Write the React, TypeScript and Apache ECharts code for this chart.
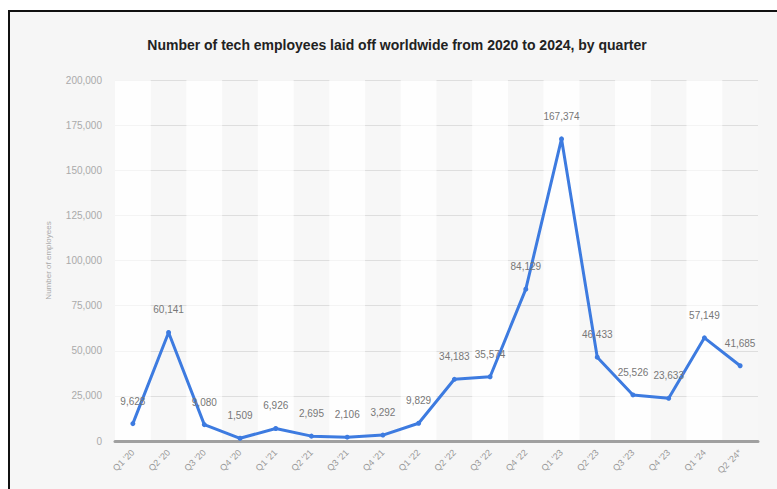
import React, { useEffect, useRef } from "react";
import * as echarts from "echarts";

const categories = ["Q1 '20", "Q2 '20", "Q3 '20", "Q4 '20", "Q1 '21", "Q2 '21", "Q3 '21", "Q4 '21", "Q1 '22", "Q2 '22", "Q3 '22", "Q4 '22", "Q1 '23", "Q2 '23", "Q3 '23", "Q4 '23", "Q1 '24", "Q2 '24*"];
const layoffs = [9628, 60141, 9080, 1509, 6926, 2695, 2106, 3292, 9829, 34183, 35574, 84129, 167374, 46433, 25526, 23633, 57149, 41685];
const yTicks = { min: 0, max: 200000, interval: 25000 };
const title = "Number of tech employees laid off worldwide from 2020 to 2024, by quarter";
const yName = "Number of employees";

const fmt = (v: number) => v.toLocaleString("en-US");
const FONT = "Liberation Sans, Arial, sans-serif";

export default function App() {
  const ref = useRef<HTMLDivElement>(null);
  useEffect(() => {
    document.body.style.margin = "0";
    const chart = echarts.init(ref.current!, null, { renderer: "svg" });
    chart.setOption({
      animation: false,
      backgroundColor: "#ffffff",
      graphic: [
        {
          type: "rect",
          z: -10,
          silent: true,
          shape: { x: 9, y: 11, width: 800, height: 500 },
          style: { fill: "#f6f6f6", stroke: "#111111", lineWidth: 2 },
        },
      ],
      title: {
        text: title,
        left: 392,
        textAlign: "center",
        top: 33,
        textStyle: { fontFamily: FONT, fontSize: 14, fontWeight: "bold", color: "#222" },
      },
      grid: { left: 115, right: 19, top: 80, bottom: 48, show: true, backgroundColor: "#fdfdfd", borderWidth: 0 },
      xAxis: {
        type: "category",
        data: categories,
        boundaryGap: true,
        axisLine: { lineStyle: { color: "#a0a0a0", width: 3 } },
        axisTick: { show: false },
        splitArea: { show: true, areaStyle: { color: ["rgba(255,255,255,0.6)", "rgba(0,0,0,0.022)"] } },
        axisLabel: { rotate: 45, fontSize: 9, color: "#999", margin: 10, fontFamily: FONT },
      },
      yAxis: {
        type: "value",
        min: yTicks.min,
        max: yTicks.max,
        interval: yTicks.interval,
        name: yName,
        nameLocation: "middle",
        nameRotate: 90,
        nameGap: 63,
        nameTextStyle: { fontSize: 8, color: "#aaa", fontFamily: FONT },
        axisLine: { show: false },
        axisTick: { show: false },
        splitLine: { lineStyle: { color: "#e4e4e4", width: 1 } },
        axisLabel: { fontSize: 10, color: "#aaa", margin: 13, formatter: (v: number) => fmt(v), fontFamily: FONT },
      },
      series: [
        {
          type: "line",
          data: layoffs,
          symbol: "circle",
          symbolSize: 5,
          z: 5,
          lineStyle: { color: "#3d7be0", width: 3 },
          itemStyle: { color: "#3d7be0" },
          label: {
            show: true,
            position: "top",
            distance: 15,
            fontSize: 10,
            color: "#777",
            fontFamily: FONT,
            formatter: (p: any) => fmt(p.value),
          },
        },
      ],
    });
    return () => chart.dispose();
  }, []);
  return <div ref={ref} style={{ width: 777, height: 489 }} />;
}
